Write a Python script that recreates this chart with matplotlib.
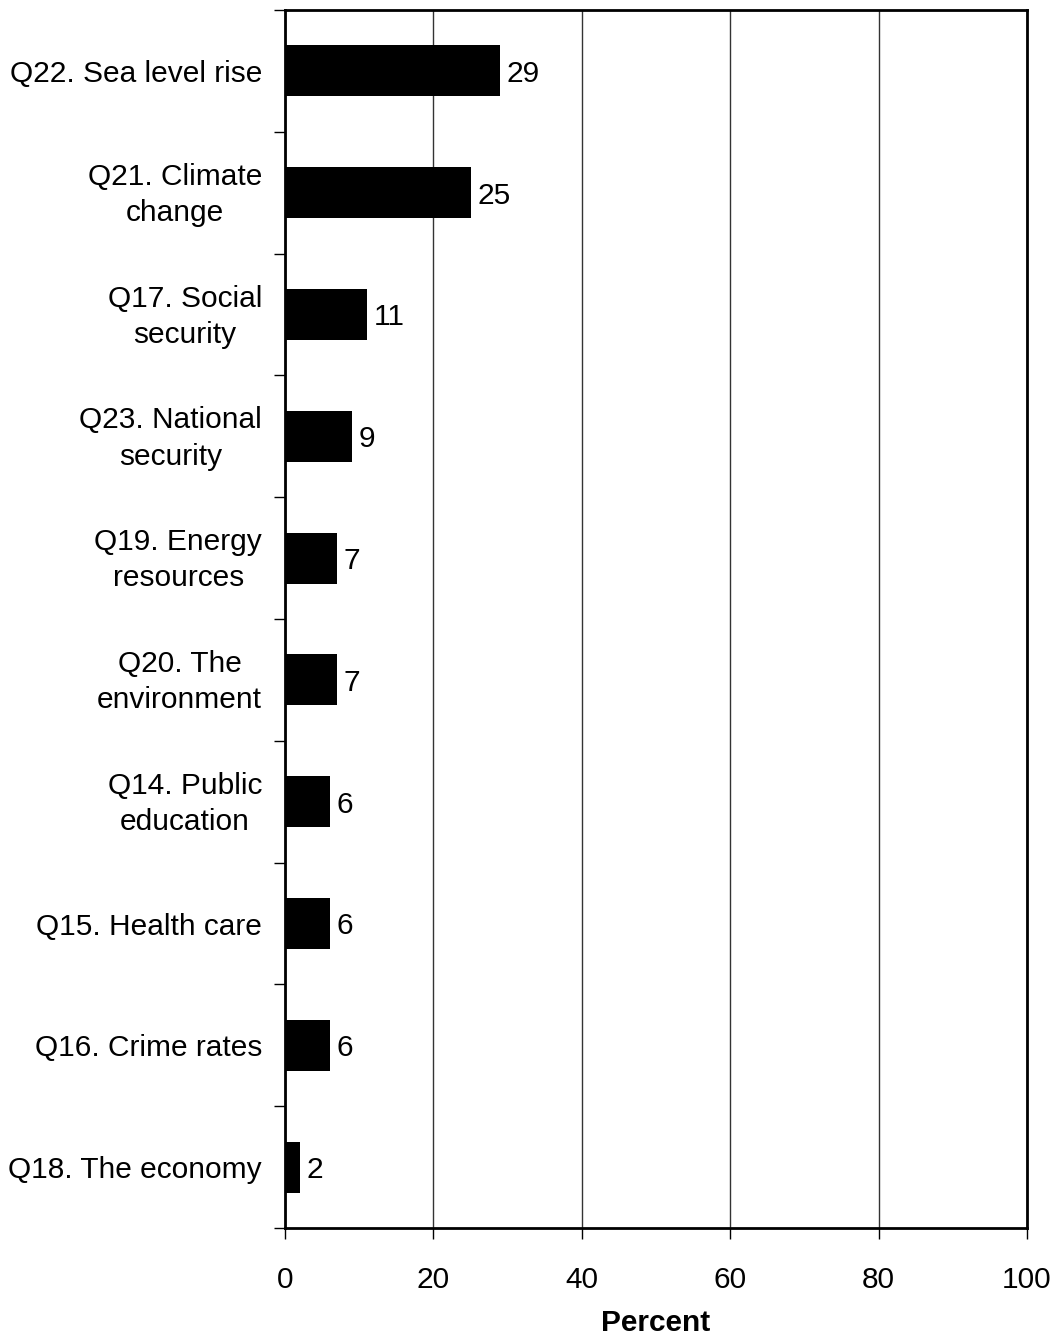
import matplotlib
matplotlib.use("Agg")
import matplotlib.pyplot as plt
import matplotlib.transforms as mtransforms
import numpy as np

categories = ["Q22. Sea level rise", "Q21. Climate\nchange", "Q17. Social\nsecurity",
              "Q23. National\nsecurity", "Q19. Energy\nresources", "Q20. The\nenvironment",
              "Q14. Public\neducation", "Q15. Health care", "Q16. Crime rates",
              "Q18. The economy"]
values = [29, 25, 11, 9, 7, 7, 6, 6, 6, 2]
xticks = [0, 20, 40, 60, 80, 100]

plt.rcParams['font.family'] = ['Liberation Sans', 'DejaVu Sans']
fs = 21.5

fig = plt.figure(figsize=(10.57, 13.36), dpi=100)
W, H = 1057, 1336
ax = fig.add_axes([285 / W, 1 - 1228 / H, (1027 - 285) / W, (1228 - 10) / H])

n = len(categories)
ypos = np.arange(n)
ax.barh(ypos, values, height=0.42, color='black', zorder=3)
for y, v in zip(ypos, values):
    ax.text(v + 0.9, y, str(v), va='center_baseline', ha='left', fontsize=fs, zorder=4)

ax.set_xlim(0, 100)
ax.set_ylim(n - 0.5, -0.5)
ax.set_xticks(xticks)
ax.set_xticklabels([str(t) for t in xticks], fontsize=fs)
ax.xaxis.grid(True, color='#333333', linewidth=1.0, zorder=0)
ax.set_axisbelow(True)

ax.set_yticks(ypos)
ax.set_yticklabels(categories, fontsize=fs, multialignment='center', linespacing=1.38)
ax.set_yticks(np.arange(-0.5, n, 1.0), minor=True)
ax.tick_params(axis='y', which='major', length=0, pad=16.5)
ax.tick_params(axis='y', which='minor', length=8, width=1, direction='out')
ax.tick_params(axis='x', which='major', length=8, width=1, direction='out', pad=19.5)

shift = mtransforms.ScaledTranslation(0, 5 / 100, fig.dpi_scale_trans)
for lab in ax.get_yticklabels():
    if "\n" in lab.get_text():
        lab.set_transform(lab.get_transform() + shift)

for s in ax.spines.values():
    s.set_linewidth(2)
    s.set_color('black')

ax.set_xlabel("Percent", fontsize=fs, fontweight='bold', labelpad=11)

fig.savefig("out.png", dpi=100)
